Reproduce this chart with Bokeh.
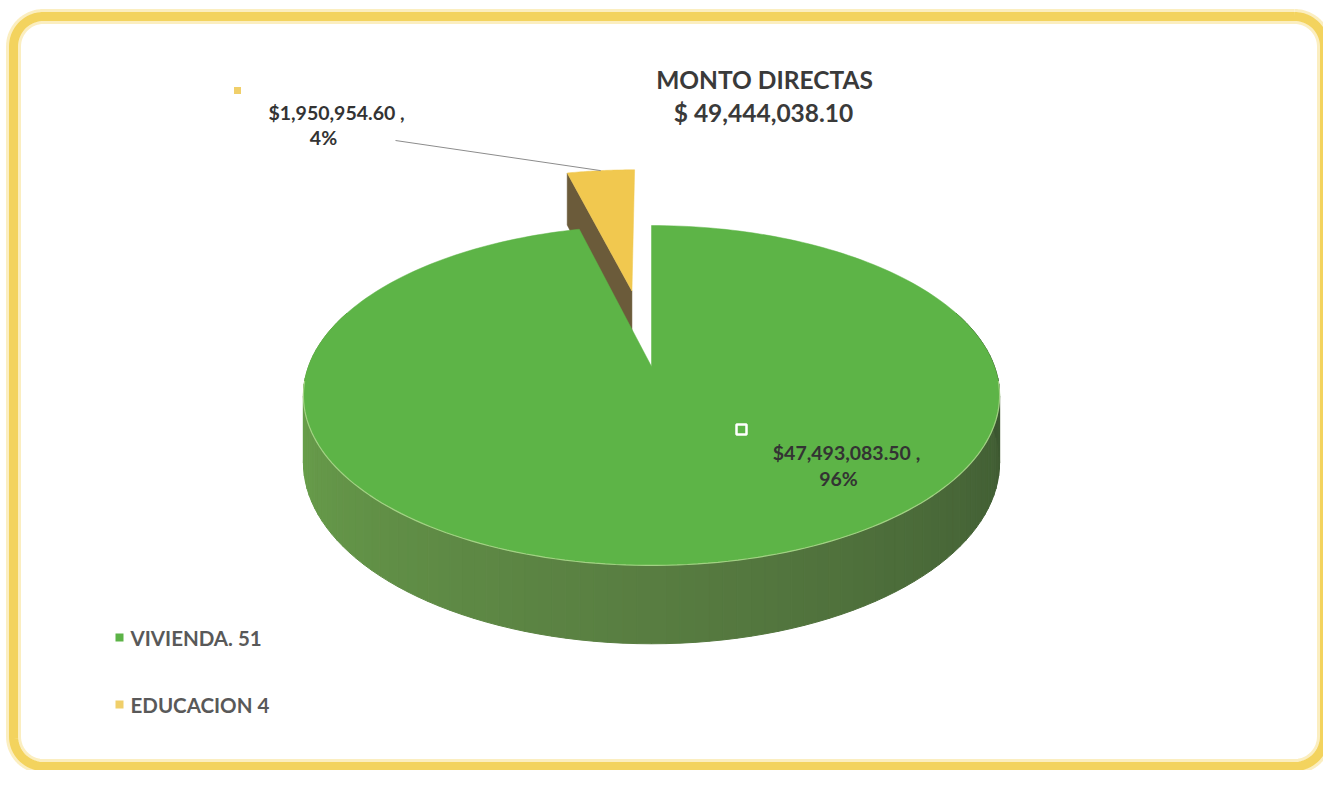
import numpy as np
from bokeh.plotting import figure
from bokeh.models import Range1d
from bokeh.core.properties import value
from bokeh.embed import file_html
from bokeh.resources import INLINE

# ---------------- data ----------------
categories = ["VIVIENDA. 51", "EDUCACION 4"]
amounts = [47493083.50, 1950954.60]
title_text = "MONTO DIRECTAS"

# ---------------- styles ----------------
top_colors = ["#5db447", "#f1c84f"]
cut_colors = ["#4f7a3c", "#6b5b3a"]
key_colors = ["#5cb347", "#f0cf6a"]
explode = [0.0, 0.5]
FONT = value("Lato")

W, H, OFF = 1323, 770, 0

total = float(sum(amounts))
shares = [a / total for a in amounts]

p = figure(width=W, height=H, x_range=Range1d(0, W), y_range=Range1d(H, 0),
           output_backend="svg", toolbar_location=None, min_border=0)
p.axis.visible = False
p.grid.visible = False
p.outline_line_color = None
p.background_fill_color = "white"
p.border_fill_color = "white"

# ---------------- frame (rounded yellow border) ----------------
def rounded_rect(x0, y0, x1, y1, r, n=20):
    xs, ys = [], []
    corners = [(x1 - r, y0 + r, -90, 0), (x1 - r, y1 - r, 0, 90),
               (x0 + r, y1 - r, 90, 180), (x0 + r, y0 + r, 180, 270)]
    for cx, cy, a0, a1 in corners:
        t = np.radians(np.linspace(a0, a1, n))
        xs += list(cx + r * np.cos(t))
        ys += list(cy + r * np.sin(t))
    xs.append(xs[0]); ys.append(ys[0])
    return [x - OFF for x in xs], [y - OFF for y in ys]

bx, by = rounded_rect(13, 16, 1324, 766, 30)
p.line(bx, by, line_color="#faeab0", line_width=15, line_alpha=0.8)
p.line(bx, by, line_color="#f3d35e", line_width=9)

# ---------------- 3D pie projection ----------------
CX, CY, A, B, PERSP, DEPTH = 651, 366, 343, 165, 0.1705, 65

def proj(u, v, z=0.0):
    u = np.asarray(u, dtype=float); v = np.asarray(v, dtype=float)
    s = 1.0 / (1.0 + PERSP * v)
    return CX + A * u * s - OFF, CY - B * v * s + z * s - OFF

# slice angles: start at 12 o'clock, clockwise
angles = [90.0]
for s in shares:
    angles.append(angles[-1] - s * 360.0)

def slice_geom(i):
    a0, a1 = angles[i], angles[i + 1]
    mid = np.radians((a0 + a1) / 2)
    ox, oy = explode[i] * np.cos(mid), explode[i] * np.sin(mid)
    return a0, a1, mid, ox, oy

# --- yellow (exploded) slice: cut face then top ---
a0, a1, mid, ox, oy = slice_geom(1)
ea = np.radians(a0)
qx = [ox, ox + np.cos(ea), ox + np.cos(ea), ox]
qy = [oy, oy + np.sin(ea), oy + np.sin(ea), oy]
qz = [0, 0, DEPTH, DEPTH]
fx, fy = [], []
for u, v, z in zip(qx, qy, qz):
    X, Y = proj(u, v, z); fx.append(float(X)); fy.append(float(Y))
p.patch(fx, fy, fill_color=cut_colors[1], line_color=cut_colors[1], line_width=0.5)

ph = np.radians(np.linspace(a0, a1, 30))
X, Y = proj(np.r_[ox, ox + np.cos(ph)], np.r_[oy, oy + np.sin(ph)])
p.patch(list(X), list(Y), fill_color=top_colors[1], line_color=top_colors[1], line_width=0.5)
yellow_anchor = proj(ox + np.cos(mid), oy + np.sin(mid))

# --- green slice: outer side strips ---
def lerp_color(c1, c2, t):
    a = [int(c1[k:k + 2], 16) for k in (1, 3, 5)]
    b = [int(c2[k:k + 2], 16) for k in (1, 3, 5)]
    return "#%02x%02x%02x" % tuple(int(round(a[j] + (b[j] - a[j]) * t)) for j in range(3))

sx, sy, sc = [], [], []
edges = np.linspace(160, 380, 111)
for k in range(len(edges) - 1):
    t0, t1 = np.radians(edges[k]), np.radians(edges[k + 1])
    us = [np.cos(t0), np.cos(t1), np.cos(t1), np.cos(t0)]
    vs = [np.sin(t0), np.sin(t1), np.sin(t1), np.sin(t0)]
    zs = [0, 0, DEPTH, DEPTH]
    xx, yy = [], []
    for u, v, z in zip(us, vs, zs):
        Xp, Yp = proj(u, v, z); xx.append(float(Xp)); yy.append(float(Yp))
    sx.append(xx); sy.append(yy)
    tm = min(max(((edges[k] + edges[k + 1]) / 2 - 180) / 180, 0), 1)
    if tm < 0.5:
        col = lerp_color("#6aa34c", "#587d41", tm / 0.5)
    else:
        col = lerp_color("#587d41", "#3c5731", (tm - 0.5) / 0.5)
    sc.append(col)
p.patches(sx, sy, fill_color=sc, line_color=sc, line_width=1)

# --- green top face ---
a0, a1, mid, ox, oy = slice_geom(0)
ph = np.radians(np.linspace(a0, a1, 240))
X, Y = proj(np.r_[ox, ox + np.cos(ph)], np.r_[oy, oy + np.sin(ph)])
p.patch(list(X), list(Y), fill_color=top_colors[0], line_color=top_colors[0], line_width=0.5)
rim = np.radians(np.linspace(185, 355, 120))
RX, RY = proj(np.cos(rim), np.sin(rim))
p.line(list(RX), list(RY), line_color="#b4dc94", line_width=1.2, line_alpha=0.8)

# ---------------- data labels ----------------
label_l1 = [f"${a:,.2f} ," for a in amounts]
label_l2 = [f"{round(s * 100):.0f}%" for s in shares]
LBL = "19.5px"

# yellow label + leader line
p.line([395 - OFF, float(yellow_anchor[0])], [140 - OFF, float(yellow_anchor[1])],
       line_color="#8c8c8c", line_width=1)
p.rect([237 - OFF], [90 - OFF], width=7, height=7, fill_color=key_colors[1], line_color=None)
p.text([336 - OFF], [112 - OFF], text=[label_l1[1]], text_font=FONT, text_font_style="bold",
       text_font_size=LBL, text_color="#333333", text_align="center", text_baseline="middle")
p.text([323 - OFF], [137 - OFF], text=[label_l2[1]], text_font=FONT, text_font_style="bold",
       text_font_size=LBL, text_color="#333333", text_align="center", text_baseline="middle")

# green label
p.rect([741 - OFF], [429 - OFF], width=10, height=10, fill_color=key_colors[0],
       line_color="white", line_width=2.5)
p.text([846 - OFF], [452 - OFF], text=[label_l1[0]], text_font=FONT, text_font_style="bold",
       text_font_size=LBL, text_color="#333333", text_align="center", text_baseline="middle")
p.text([838 - OFF], [478 - OFF], text=[label_l2[0]], text_font=FONT, text_font_style="bold",
       text_font_size=LBL, text_color="#333333", text_align="center", text_baseline="middle")

# ---------------- title ----------------
p.text([764 - OFF], [79 - OFF], text=[title_text], text_font=FONT, text_font_style="bold",
       text_font_size="24.5px", text_color="#3a3a3a", text_align="center", text_baseline="middle")
p.text([763 - OFF], [112 - OFF], text=[f"$ {total:,.2f}"], text_font=FONT, text_font_style="bold",
       text_font_size="24.5px", text_color="#3a3a3a", text_align="center", text_baseline="middle")

# ---------------- legend ----------------
leg_y = [637, 704]
for i, cat in enumerate(categories):
    p.rect([119 - OFF], [leg_y[i] - OFF], width=8, height=8, fill_color=key_colors[i], line_color=None)
    p.text([130 - OFF], [leg_y[i] - OFF], text=[cat], text_font=FONT, text_font_style="bold",
           text_font_size="20.5px", text_color="#595959", text_align="left", text_baseline="middle")

open("out.html", "w").write(file_html(p, INLINE))
